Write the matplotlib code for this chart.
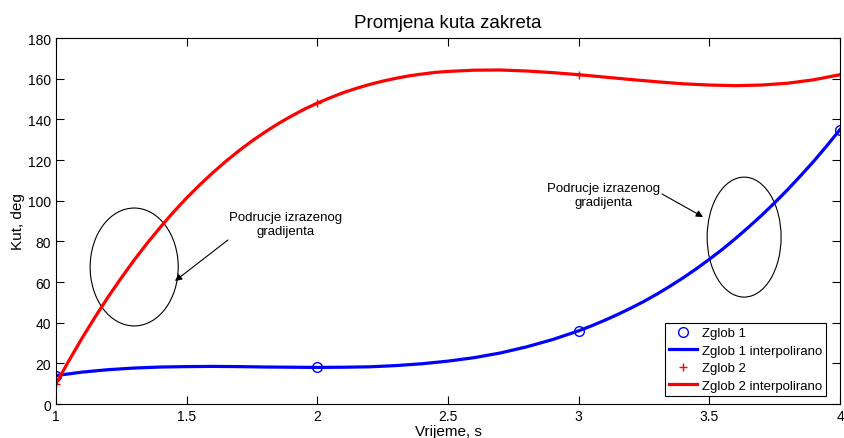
import matplotlib
matplotlib.use("Agg")
import matplotlib.pyplot as plt
from matplotlib.patches import Ellipse

plt.rcParams['font.family'] = ['Liberation Sans', 'DejaVu Sans']

# measured joint angles
t_pts = [1, 2, 3, 4]
zglob1 = [14, 18, 36, 135]
zglob2 = [10, 148, 162, 162]

# interpolated curves (denser where they bend more)
t_fine1 = [1.0, 1.1, 1.2, 1.3, 1.4, 1.5, 1.6, 1.7, 1.8, 1.9, 2.0,
           2.1, 2.2, 2.3, 2.4, 2.5, 2.6, 2.7, 2.8, 2.9, 3.0,
           3.05, 3.1, 3.15, 3.2, 3.25, 3.3, 3.35, 3.4, 3.45, 3.5,
           3.55, 3.6, 3.65, 3.7, 3.75, 3.8, 3.85, 3.9, 3.95, 4.0]
zglob1_interp = [14.0, 15.7, 16.9, 17.7, 18.2, 18.4, 18.5, 18.4, 18.2, 18.1, 18.0,
                 18.1, 18.3, 18.9, 19.8, 21.1, 22.8, 25.1, 28.1, 31.7, 36.0,
                 38.5, 41.2, 44.1, 47.2, 50.5, 54.1, 58.0, 62.1, 66.5, 71.2,
                 76.1, 81.4, 87.0, 92.8, 99.0, 105.5, 112.4, 119.5, 127.1, 135.0]
t_fine2 = [1.0, 1.05, 1.1, 1.15, 1.2, 1.25, 1.3, 1.35, 1.4, 1.45, 1.5,
           1.55, 1.6, 1.65, 1.7, 1.75, 1.8, 1.85, 1.9, 1.95, 2.0,
           2.05, 2.1, 2.15, 2.2, 2.25, 2.3, 2.35, 2.4, 2.45, 2.5,
           2.6, 2.7, 2.8, 2.9, 3.0, 3.1, 3.2, 3.3, 3.4, 3.5,
           3.6, 3.7, 3.8, 3.9, 4.0]
zglob2_interp = [10.0, 21.5, 32.5, 42.9, 52.8, 62.1, 71.0, 79.3, 87.1, 94.5, 101.4,
                 107.8, 113.8, 119.4, 124.6, 129.4, 133.8, 137.9, 141.6, 145.0, 148.0,
                 150.7, 153.2, 155.3, 157.2, 158.8, 160.2, 161.4, 162.3, 163.1, 163.6,
                 164.2, 164.3, 163.8, 163.0, 162.0, 160.8, 159.6, 158.5, 157.5, 156.9,
                 156.6, 156.9, 157.8, 159.5, 162.0]

note = 'Podrucje izrazenog\ngradijenta'

fig = plt.figure(figsize=(8.44, 4.39), dpi=100)
ax = fig.add_axes([0.0664, 0.0774, 0.9289, 0.8336])

ax.plot(t_pts, zglob1, 'o', color='blue', mfc='none', ms=7, mew=1, label='Zglob 1')
ax.plot(t_fine1, zglob1_interp, '-', color='blue', lw=2.3, solid_joinstyle='round',
        label='Zglob 1 interpolirano')
ax.plot(t_pts, zglob2, '+', color='red', ms=6, mew=1, label='Zglob 2')
ax.plot(t_fine2, zglob2_interp, '-', color='red', lw=2.3, solid_joinstyle='round',
        label='Zglob 2 interpolirano')

# highlighted regions
ax.add_patch(Ellipse((1.299, 67.4), 0.337, 58.0, fill=False, ec='black', lw=0.8))
ax.add_patch(Ellipse((3.633, 82.1), 0.283, 59.0, fill=False, ec='black', lw=0.8))

ax.text(1.88, 88.5, note, ha='center', va='center', fontsize=9.5)
ax.text(3.097, 102.8, note, ha='center', va='center', fontsize=9.5)
arrow = dict(arrowstyle='-|>', color='black', lw=0.8, shrinkA=0, shrinkB=0,
             mutation_scale=10)
ax.annotate('', xy=(1.455, 60.5), xytext=(1.658, 80.7), arrowprops=arrow)
ax.annotate('', xy=(3.476, 92.0), xytext=(3.319, 103.3), arrowprops=arrow)

ax.set_xlim(1, 4)
ax.set_ylim(0, 180)
ax.set_xticks([1, 1.5, 2, 2.5, 3, 3.5, 4])
ax.set_xticklabels(['1', '1.5', '2', '2.5', '3', '3.5', '4'])
ax.set_yticks(range(0, 181, 20))
ax.tick_params(direction='in', top=True, right=True, labelsize=10, length=6)
ax.set_title('Promjena kuta zakreta', fontsize=13.5, pad=8)
ax.set_xlabel('Vrijeme, s', fontsize=11, labelpad=1)
ax.set_ylabel('Kut, deg', fontsize=11, labelpad=2)

leg = ax.legend(loc='lower right', bbox_to_anchor=(0.982, 0.022), borderaxespad=0,
                fontsize=9.5, fancybox=False, edgecolor='black', framealpha=1,
                borderpad=0.3, labelspacing=0.4, handlelength=2.1, handletextpad=0.35)
leg.get_frame().set_linewidth(0.8)

fig.savefig('out.png', dpi=100)
